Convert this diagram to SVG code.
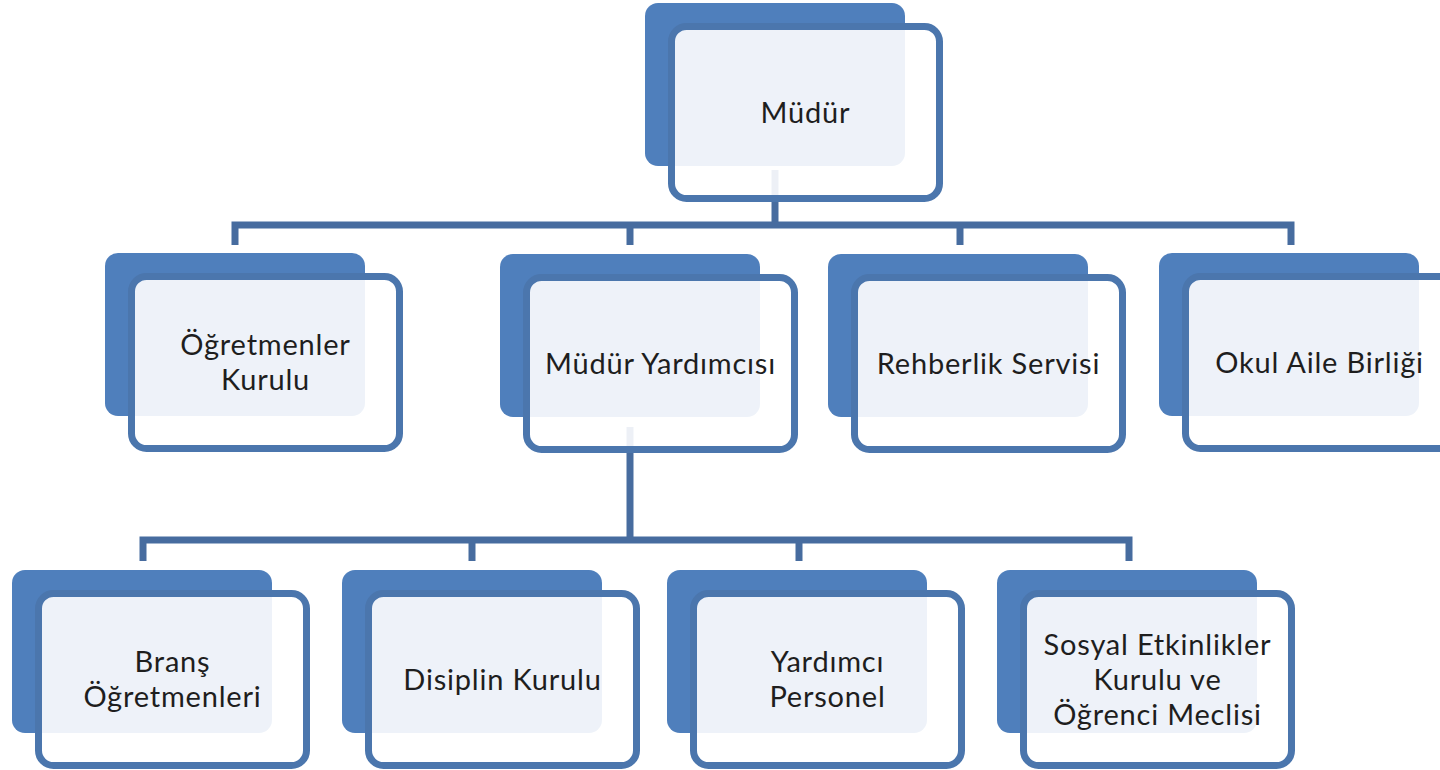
<svg xmlns="http://www.w3.org/2000/svg" width="1440" height="770" viewBox="0 0 1440 770">
<style>
.bg{fill:#ffffff}
.conn{fill:none;stroke:#476c9f;stroke-width:7;stroke-linejoin:miter}
.back{fill:#4f7fbc}
.front{fill:#ffffff;fill-opacity:0.9;stroke:#4b76ad;stroke-width:7}
.lbl{font-family:Lato,"Open Sans","Liberation Sans",sans-serif;font-size:29px;letter-spacing:0.8px;fill:#1e1e1e;text-anchor:middle}
</style>
<rect class="bg" x="0" y="0" width="1440" height="770"/>
<g id="connectors">
<path class="conn" d="M775,170 V225"/>
<path class="conn" d="M235,245 V225 H1291 V245"/>
<path class="conn" d="M630,225 V245"/>
<path class="conn" d="M960,225 V245"/>
<path class="conn" d="M630,427 V540"/>
<path class="conn" d="M143,561 V540 H1129 V561"/>
<path class="conn" d="M472,540 V561"/>
<path class="conn" d="M799,540 V561"/>
</g>
<g id="mudur" transform="translate(645,3)">
<rect class="back" x="0" y="0" width="260" height="163" rx="13"/>
<rect class="front" x="26.5" y="23.5" width="268" height="172" rx="15"/>
<text class="lbl" x="160.5" y="119.5">Müdür</text>
</g>
<g id="ogretmenler-kurulu" transform="translate(105,253)">
<rect class="back" x="0" y="0" width="260" height="163" rx="13"/>
<rect class="front" x="26.5" y="23.5" width="268" height="172" rx="15"/>
<text class="lbl" x="160.5" y="102">Öğretmenler</text>
<text class="lbl" x="160.5" y="137">Kurulu</text>
</g>
<g id="mudur-yardimcisi" transform="translate(500,254)">
<rect class="back" x="0" y="0" width="260" height="163" rx="13"/>
<rect class="front" x="26.5" y="23.5" width="268" height="172" rx="15"/>
<text class="lbl" x="160.5" y="119.5">Müdür Yardımcısı</text>
</g>
<g id="rehberlik-servisi" transform="translate(828,254)">
<rect class="back" x="0" y="0" width="260" height="163" rx="13"/>
<rect class="front" x="26.5" y="23.5" width="268" height="172" rx="15"/>
<text class="lbl" x="160.5" y="119.5">Rehberlik Servisi</text>
</g>
<g id="okul-aile-birligi" transform="translate(1159,253)">
<rect class="back" x="0" y="0" width="260" height="163" rx="13"/>
<rect class="front" x="26.5" y="23.5" width="268" height="172" rx="15"/>
<text class="lbl" x="160.5" y="119.5">Okul Aile Birliği</text>
</g>
<g id="brans-ogretmenleri" transform="translate(12,570)">
<rect class="back" x="0" y="0" width="260" height="163" rx="13"/>
<rect class="front" x="26.5" y="23.5" width="268" height="172" rx="15"/>
<text class="lbl" x="160.5" y="102">Branş</text>
<text class="lbl" x="160.5" y="137">Öğretmenleri</text>
</g>
<g id="disiplin-kurulu" transform="translate(342,570)">
<rect class="back" x="0" y="0" width="260" height="163" rx="13"/>
<rect class="front" x="26.5" y="23.5" width="268" height="172" rx="15"/>
<text class="lbl" x="160.5" y="119.5">Disiplin Kurulu</text>
</g>
<g id="yardimci-personel" transform="translate(667,570)">
<rect class="back" x="0" y="0" width="260" height="163" rx="13"/>
<rect class="front" x="26.5" y="23.5" width="268" height="172" rx="15"/>
<text class="lbl" x="160.5" y="102">Yardımcı</text>
<text class="lbl" x="160.5" y="137">Personel</text>
</g>
<g id="sosyal-etkinlikler" transform="translate(997,570)">
<rect class="back" x="0" y="0" width="260" height="163" rx="13"/>
<rect class="front" x="26.5" y="23.5" width="268" height="172" rx="15"/>
<text class="lbl" x="160.5" y="84.5">Sosyal Etkinlikler</text>
<text class="lbl" x="160.5" y="119.5">Kurulu ve</text>
<text class="lbl" x="160.5" y="154.5">Öğrenci Meclisi</text>
</g>
</svg>
